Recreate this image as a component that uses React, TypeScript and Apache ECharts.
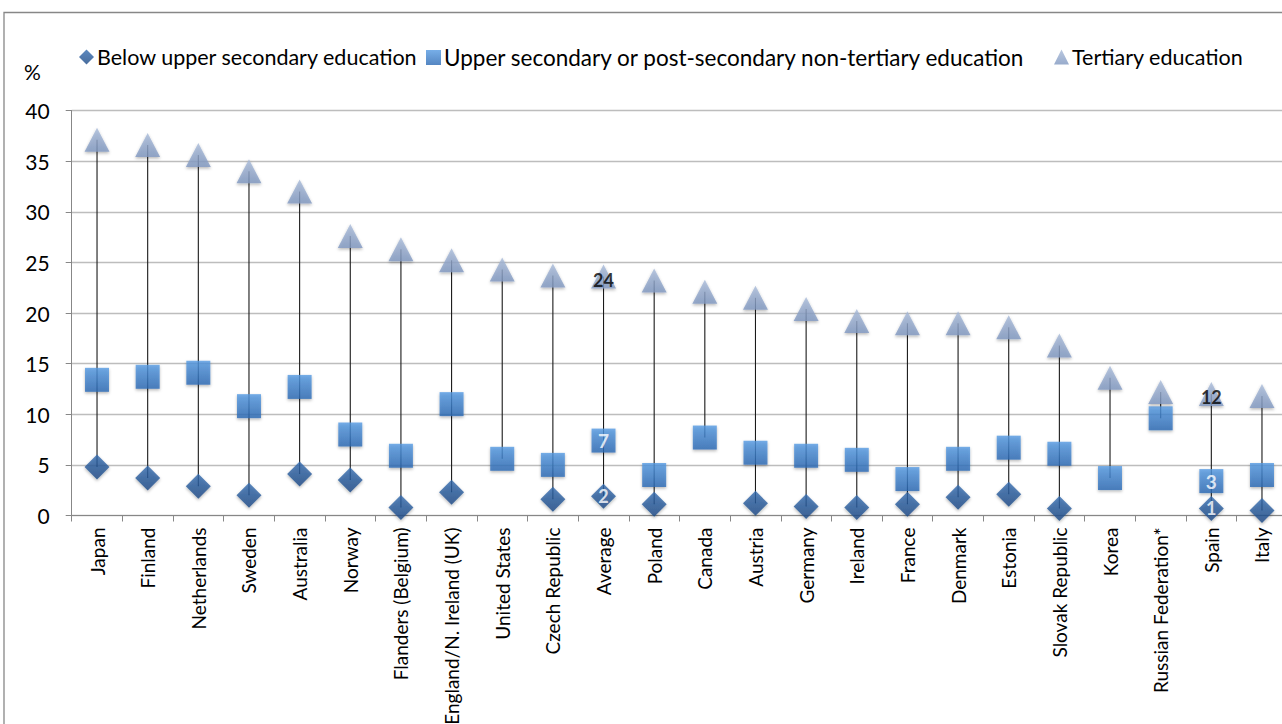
import React, { useEffect, useRef } from "react";
import * as echarts from "echarts";

const categories = [
  "Japan", "Finland", "Netherlands", "Sweden", "Australia", "Norway",
  "Flanders (Belgium)", "England/N. Ireland (UK)", "United States", "Czech Republic",
  "Average", "Poland", "Canada", "Austria", "Germany", "Ireland", "France",
  "Denmark", "Estonia", "Slovak Republic", "Korea", "Russian Federation*", "Spain", "Italy",
];
const belowUpperSecondary = [
  4.8, 3.7, 2.9, 2.0, 4.1, 3.5, 0.8, 2.3, null, 1.6, 1.9, 1.1, null, 1.2, 0.9, 0.8,
  1.1, 1.8, 2.1, 0.7, null, null, 0.7, 0.5,
];
const upperSecondary = [
  13.4, 13.7, 14.1, 10.8, 12.7, 8.0, 5.9, 11.0, 5.6, 5.0, 7.4, 4.0, 7.7, 6.2, 5.9, 5.5,
  3.6, 5.6, 6.7, 6.1, 3.7, 9.6, 3.4, 4.0,
];
const tertiary = [
  37.1, 36.6, 35.6, 34.0, 32.0, 27.6, 26.3, 25.2, 24.3, 23.7, 23.6, 23.2, 22.1, 21.5,
  20.4, 19.2, 19.0, 19.0, 18.6, 16.8, 13.6, 12.2, 12.0, 11.8,
];
const labelledCategories = ["Average", "Spain"];
const seriesNames = [
  "Below upper secondary education",
  "Upper secondary or post-secondary non-tertiary education",
  "Tertiary education",
];
const legendIcons = ["diamond", "rect", "triangle"];
const yTicks = { min: 0, max: 40, interval: 5 };

const FONT = "Lato";

function grad(top: string, bottom: string) {
  return new echarts.graphic.LinearGradient(0, 0, 0, 1, [
    { offset: 0, color: top },
    { offset: 1, color: bottom },
  ]);
}

export default function App() {
  const ref = useRef<HTMLDivElement>(null);
  useEffect(() => {
    if (!ref.current) return;
    const chart = echarts.init(ref.current, undefined, { renderer: "svg" });

    const mk = (vals: (number | null)[], labelColor: string) =>
      vals.map((v, i) =>
        labelledCategories.includes(categories[i]) && v != null
          ? { value: v, label: { show: true, color: labelColor } }
          : v
      );

    const ranges = categories.map((_, i) => {
      const vals = [belowUpperSecondary[i], upperSecondary[i], tertiary[i]].filter(
        (v) => v != null
      ) as number[];
      return [i, Math.min(...vals), Math.max(...vals)];
    });

    const labelBase = {
      position: "inside",
      fontFamily: FONT,
      fontWeight: "bold",
      fontSize: 18,
      formatter: (p: any) => String(Math.round(Array.isArray(p.value) ? p.value[1] : p.value)),
    };
    const shadow = {
      shadowBlur: 3,
      shadowColor: "rgba(0,0,0,0.35)",
      shadowOffsetY: 1.5,
    };

    const legendLefts = [79, 426, 1054];
    const legendFonts = [21.5, 22.5, 21.5];

    chart.setOption({
      animation: false,
      textStyle: { fontFamily: FONT },
      graphic: [
        {
          type: "rect",
          shape: { x: 4, y: 12.5, width: 1400, height: 800 },
          style: { fill: "none", stroke: "#878787", lineWidth: 1.3 },
          silent: true,
        },
        {
          type: "text",
          left: 24,
          top: 61,
          style: { text: "%", fontSize: 21, fontFamily: FONT, fill: "#000" },
        },
      ],
      legend: seriesNames.map((name, i) => ({
        left: legendLefts[i],
        top: 46,
        padding: 0,
        itemWidth: 15,
        itemHeight: 15,
        textStyle: {
          fontSize: legendFonts[i],
          color: "#000",
          fontFamily: FONT,
          padding: [0, 0, 0, -2],
        },
        data: [{ name, icon: legendIcons[i] }],
      })),
      grid: {
        left: 71.7,
        top: 110.5,
        width: 1215.6,
        height: 405,
        containLabel: false,
        outerBoundsMode: "none",
      },
      xAxis: {
        type: "category",
        data: categories,
        boundaryGap: true,
        axisLine: { lineStyle: { color: "#878787", width: 1 } },
        axisTick: { show: true, length: 6, lineStyle: { color: "#878787" } },
        axisLabel: {
          rotate: 90,
          interval: 0,
          margin: 12,
          fontSize: 19,
          color: "#000",
          fontFamily: FONT,
        },
        splitLine: { show: false },
      },
      yAxis: {
        type: "value",
        min: yTicks.min,
        max: yTicks.max,
        interval: yTicks.interval,
        axisLine: { show: true, lineStyle: { color: "#878787", width: 1 } },
        axisTick: { show: true, length: 6, lineStyle: { color: "#878787" } },
        axisLabel: { fontSize: 21, color: "#000", margin: 22, fontFamily: FONT },
        splitLine: { show: true, lineStyle: { color: "#bdbdbd", width: 1.3 } },
      },
      series: [
        {
          type: "custom",
          data: ranges,
          z: 1,
          silent: true,
          renderItem: (params: any, api: any) => {
            const p1 = api.coord([api.value(0), api.value(1)]);
            const p2 = api.coord([api.value(0), api.value(2)]);
            return {
              type: "line",
              shape: { x1: p1[0], y1: p1[1], x2: p2[0], y2: p2[1] },
              style: { stroke: "#1a1a1a", lineWidth: 1.1 },
            };
          },
        },
        {
          name: seriesNames[0],
          type: "scatter",
          symbol: "diamond",
          symbolSize: 25,
          z: 3,
          itemStyle: { color: grad("#346cb0", "#1b4884"), ...shadow },
          label: { ...labelBase },
          data: mk(belowUpperSecondary, "#fff"),
        },
        {
          name: seriesNames[1],
          type: "scatter",
          symbol: "rect",
          symbolSize: 24,
          z: 4,
          itemStyle: { color: grad("#559ae2", "#2a68b3"), ...shadow },
          label: { ...labelBase, fontSize: 19 },
          data: mk(upperSecondary, "#fff"),
        },
        {
          name: seriesNames[2],
          type: "scatter",
          symbol: "triangle",
          symbolSize: [25, 24],
          z: 5,
          itemStyle: { color: grad("#a9bbd9", "#7e96bf"), ...shadow },
          label: { ...labelBase, offset: [0, 3] },
          data: mk(tertiary, "#000"),
        },
      ],
    });
    return () => chart.dispose();
  }, []);

  return (
    <div
      style={{
        position: "fixed",
        left: 0,
        top: 0,
        width: 1282,
        height: 724,
        overflow: "hidden",
        background: "#fff",
      }}
    >
      <div ref={ref} style={{ position: "absolute", left: 0, top: 0, width: 1300, height: 724 }} />
    </div>
  );
}
